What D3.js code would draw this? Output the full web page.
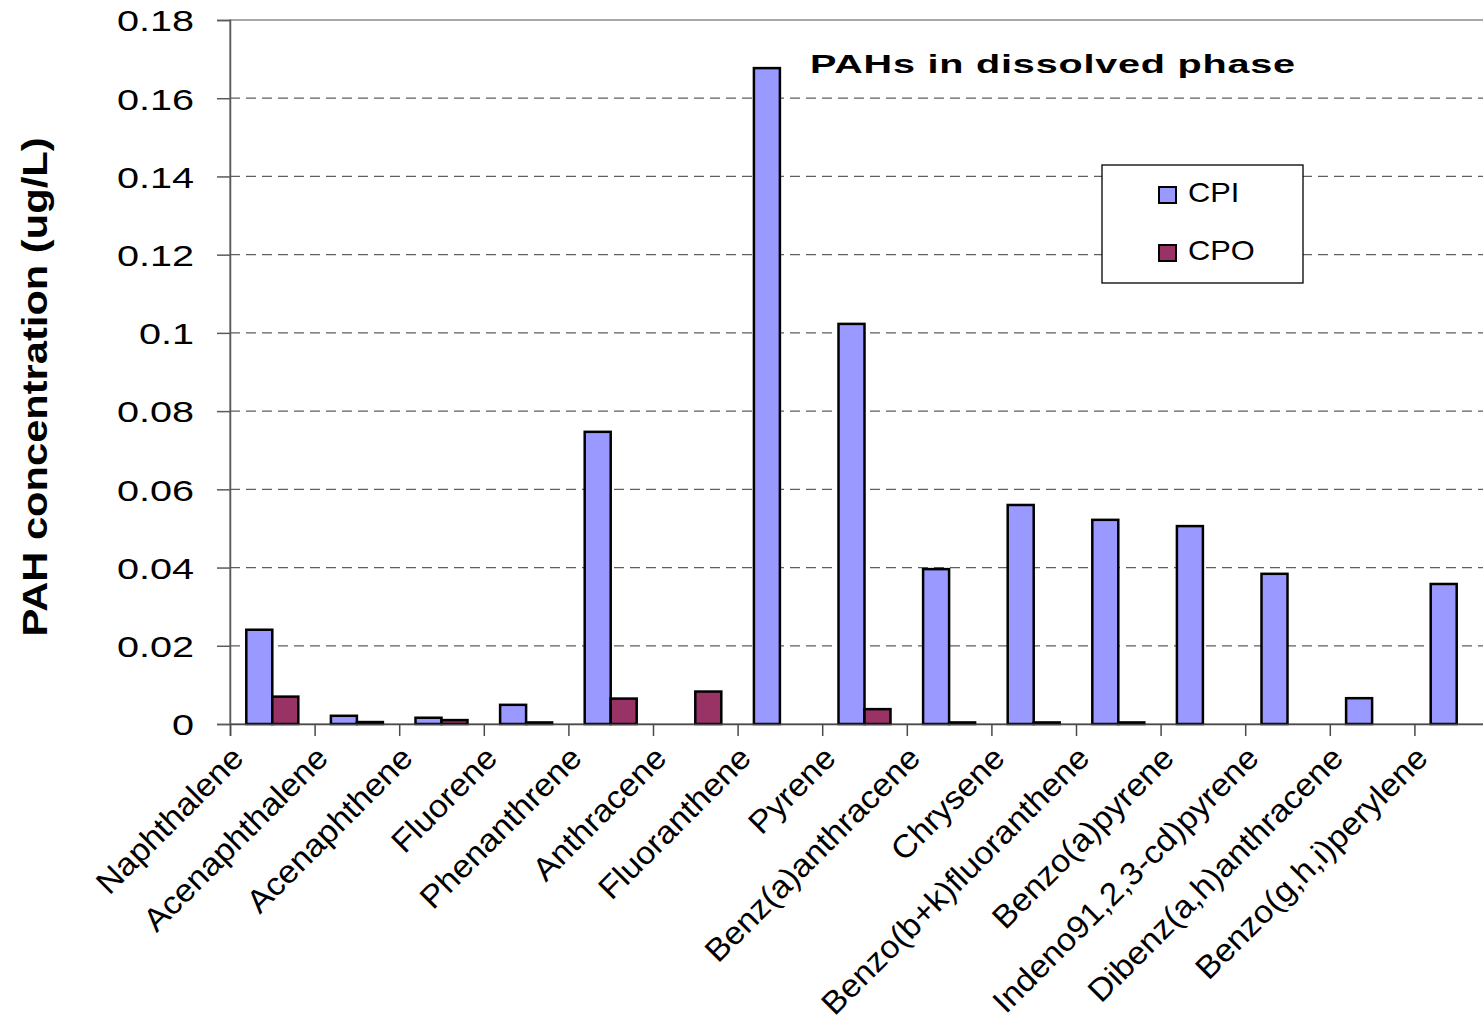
<!DOCTYPE html>
<html>
<head>
<meta charset="utf-8">
<script src="https://cdn.jsdelivr.net/npm/d3@7"></script>
<style>
  html, body { margin: 0; padding: 0; background: #fff; }
  svg { display: block; }
  text { font-family: "Liberation Sans", Arial, sans-serif; fill: #000; }
</style>
</head>
<body>
<svg id="chart" width="1483" height="1028"></svg>
<script>
const categories = ["Naphthalene", "Acenaphthalene", "Acenaphthene", "Fluorene", "Phenanthrene",
  "Anthracene", "Fluoranthene", "Pyrene", "Benz(a)anthracene", "Chrysene",
  "Benzo(b+k)fluoranthene", "Benzo(a)pyrene", "Indeno91,2,3-cd)pyrene",
  "Dibenz(a,h)anthracene", "Benzo(g,h,i)perylene"];
const seriesNames = ["CPI", "CPO"];
const cpiValues = [0.0241, 0.0021, 0.0016, 0.0049, 0.0747, 0, 0.1677, 0.1023, 0.0396, 0.0560, 0.0522, 0.0506, 0.0384, 0.0066, 0.0358];
const cpoValues = [0.0070, 0.0005, 0.0010, 0.0004, 0.0065, 0.0083, 0, 0.0038, 0.0004, 0.0004, 0.0004, 0, 0, 0, 0];
const yTickValues = [0, 0.02, 0.04, 0.06, 0.08, 0.1, 0.12, 0.14, 0.16, 0.18];
const yTickLabels = ["0", "0.02", "0.04", "0.06", "0.08", "0.1", "0.12", "0.14", "0.16", "0.18"];
const titleText = "PAHs in dissolved phase";
const yAxisTitle = "PAH concentration (ug/L)";
const colors = ["#9999FF", "#993366"];

(function () {
const svg = d3.select("#chart");
svg.append("rect").attr("width", 1483).attr("height", 1028).attr("fill", "#fff");

const pLeft = 230, pRight = 1499, pTop = 20, pBottom = 724;

function stretch(sel, f) {
  sel.each(function() {
    const len = this.getComputedTextLength();
    d3.select(this).attr("textLength", len * f).attr("lengthAdjust", "spacingAndGlyphs");
  });
}

const y = d3.scaleLinear().domain([0, 0.18]).range([pBottom, pTop]);
const x0 = d3.scaleBand().domain(categories).range([pLeft, pRight]).padding(0);
const x1 = d3.scaleBand().domain(seriesNames).range([0, x0.bandwidth()]).paddingInner(0).paddingOuter(0.627);
const xEdge = d3.scaleLinear().domain([0, categories.length]).range([pLeft, pRight]);

// plot border (top visible)
svg.append("rect").attr("x", pLeft).attr("y", pTop).attr("width", pRight - pLeft).attr("height", pBottom - pTop)
  .attr("fill", "none").attr("stroke", "#8a8a8a").attr("stroke-width", 1.5);

// gridlines
svg.append("g").selectAll("line").data(yTickValues.filter(v => v > 0 && v < 0.18)).join("line")
  .attr("x1", pLeft).attr("x2", pRight).attr("y1", d => y(d)).attr("y2", d => y(d))
  .attr("stroke", "#5f5f5f").attr("stroke-width", 1.3).attr("stroke-dasharray", "10,6");

// bars
const data = categories.map((c, i) => ({ c, vals: [cpiValues[i], cpoValues[i]] }));
const groups = svg.append("g").selectAll("g").data(data).join("g")
  .attr("transform", d => `translate(${x0(d.c)},0)`);
groups.selectAll("rect").data(d => d.vals.map((v, j) => ({ v, s: seriesNames[j], j })).filter(e => e.v > 0))
  .join("rect")
  .attr("x", e => x1(e.s)).attr("width", x1.bandwidth())
  .attr("y", e => y(e.v)).attr("height", e => y(0) - y(e.v))
  .attr("fill", e => colors[e.j]).attr("stroke", "#000").attr("stroke-width", 2.5);

// y axis
const yAxis = svg.append("g").attr("transform", `translate(${pLeft},0)`)
  .call(d3.axisLeft(y).tickValues(yTickValues).tickSize(13).tickPadding(23)
    .tickFormat((d, i) => yTickLabels[i]));
yAxis.select(".domain").attr("stroke", "#5a5a5a").attr("stroke-width", 1.5);
yAxis.selectAll(".tick line").attr("stroke", "#5a5a5a").attr("stroke-width", 1.5);
yAxis.selectAll(".tick text").attr("font-size", 30).attr("font-family", "Liberation Sans, Arial, sans-serif")
  .attr("fill", "#000").attr("dy", "0.36em");
stretch(yAxis.selectAll(".tick text"), 1.32);

// x axis line + boundary ticks
const xAxis = svg.append("g").attr("transform", `translate(0,${pBottom})`)
  .call(d3.axisBottom(xEdge).tickValues(d3.range(categories.length + 1)).tickSize(12).tickFormat(""));
xAxis.select(".domain").attr("stroke", "#4a4a4a").attr("stroke-width", 1.5);
xAxis.selectAll(".tick line").attr("stroke", "#4a4a4a").attr("stroke-width", 1.5);

// x labels
const xLab = svg.append("g").attr("transform", `translate(0,${pBottom})`)
  .call(d3.axisBottom(x0).tickSize(0).tickPadding(0));
xLab.select(".domain").remove();
xLab.selectAll(".tick text")
  .attr("font-size", 32).attr("font-family", "Liberation Sans, Arial, sans-serif").attr("fill", "#000")
  .attr("text-anchor", "end").attr("y", 0).attr("dy", 0)
  .attr("transform", "translate(-27,36) rotate(-45)");
stretch(xLab.selectAll(".tick text"), 1.06);

// y axis title
const yt = svg.append("text").text(yAxisTitle)
  .attr("font-size", 35).attr("font-weight", "bold").attr("text-anchor", "middle")
  .attr("transform", "translate(47,387) rotate(-90)");
stretch(yt, 1.19);

// chart title (glyphs widened by a horizontal scale)
const tt = svg.append("text").text(titleText)
  .attr("font-size", 25).attr("font-weight", "bold").attr("letter-spacing", 0.5);
const tLen = tt.node().getComputedTextLength();
tt.attr("transform", `translate(810,73) scale(${486 / tLen},1)`);

// legend
const lg = svg.append("g");
lg.append("rect").attr("x", 1102).attr("y", 165).attr("width", 201).attr("height", 118)
  .attr("fill", "#fff").attr("stroke", "#000").attr("stroke-width", 1.3);
const items = lg.selectAll("g.item").data(seriesNames).join("g").attr("class", "item")
  .attr("transform", (d, i) => `translate(1159,${187 + i * 58})`);
items.append("rect").attr("width", 17).attr("height", 16)
  .attr("fill", (d, i) => colors[i]).attr("stroke", "#000").attr("stroke-width", 2);
const lt = items.append("text").text(d => d).attr("x", 29).attr("y", 15)
  .attr("font-size", 28);
stretch(lt, 1.1);
})();
</script>
</body>
</html>
